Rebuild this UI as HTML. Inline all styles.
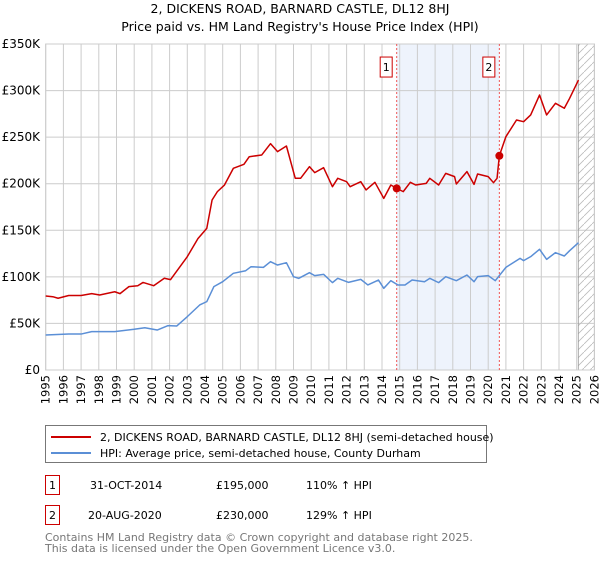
<!DOCTYPE html>
<html><head><meta charset="utf-8"><style>
body{margin:0;background:#fff;font-family:"DejaVu Sans","Liberation Sans",sans-serif;}
svg text{font-family:"DejaVu Sans","Liberation Sans",sans-serif;}
</style></head><body>
<svg id="chart" width="600" height="560" xmlns="http://www.w3.org/2000/svg">
<text x="300" y="13" text-anchor="middle" font-size="12.5" fill="#000">2, DICKENS ROAD, BARNARD CASTLE, DL12 8HJ</text>
<text x="300" y="31" text-anchor="middle" font-size="12.5" fill="#000">Price paid vs. HM Land Registry's House Price Index (HPI)</text>
<g id="plot"></g>
<g>
<rect x="45.5" y="425.5" width="441" height="37" fill="#fff" stroke="#777"/>
<line x1="51" y1="437" x2="91" y2="437" stroke="#cc0000" stroke-width="2"/>
<text x="100" y="441" font-size="11" fill="#000">2, DICKENS ROAD, BARNARD CASTLE, DL12 8HJ (semi-detached house)</text>
<line x1="51" y1="453" x2="91" y2="453" stroke="#5b8fd6" stroke-width="2"/>
<text x="100" y="457" font-size="11" fill="#000">HPI: Average price, semi-detached house, County Durham</text>
</g>
<g font-size="11" fill="#000">
<rect x="45.5" y="475.5" width="14" height="19" fill="#fff" stroke="#cc0000"/>
<text x="52.5" y="489" text-anchor="middle">1</text>
<text x="90" y="489">31-OCT-2014</text><text x="216" y="489">£195,000</text><text x="306" y="489">110% ↑ HPI</text>
<rect x="45.5" y="505.5" width="14" height="19" fill="#fff" stroke="#cc0000"/>
<text x="52.5" y="519" text-anchor="middle">2</text>
<text x="88" y="519">20-AUG-2020</text><text x="216" y="519">£230,000</text><text x="306" y="519">129% ↑ HPI</text>
</g>
<text x="45" y="541" font-size="11" fill="#777">Contains HM Land Registry data © Crown copyright and database right 2025.</text>
<text x="45" y="552" font-size="11" fill="#777">This data is licensed under the Open Government Licence v3.0.</text>
</svg>
<script>
const yTicks=[0,50,100,150,200,250,300,350];
const yTickLabels=["£0","£50K","£100K","£150K","£200K","£250K","£300K","£350K"];
const xYears=[1995,1996,1997,1998,1999,2000,2001,2002,2003,2004,2005,2006,2007,2008,2009,2010,2011,2012,2013,2014,2015,2016,2017,2018,2019,2020,2021,2022,2023,2024,2025,2026];
const redYears=[1995.0,1995.4,1995.7,1996.3,1997.0,1997.6,1998.05,1998.9,1999.2,1999.7,2000.2,2000.5,2001.1,2001.7,2002.05,2003.0,2003.6,2004.1,2004.4,2004.7,2005.1,2005.6,2006.2,2006.5,2007.2,2007.7,2008.1,2008.6,2009.1,2009.4,2009.9,2010.2,2010.7,2011.2,2011.5,2012.0,2012.2,2012.8,2013.1,2013.6,2014.1,2014.5,2014.83,2015.2,2015.6,2015.9,2016.5,2016.7,2017.2,2017.6,2018.1,2018.2,2018.8,2019.2,2019.4,2020.0,2020.3,2020.5,2020.63,2021.0,2021.6,2022.0,2022.4,2022.9,2023.3,2023.8,2024.3,2024.6,2025.1];
const redValues=[79.4,78.7,77,80,80,82,80.5,84,82,89.5,90.5,94,90.5,98.5,97,121.7,141,152,182.5,191.5,198.6,216.5,220.8,229,230.8,243,234.4,240.5,205.8,205.8,218.3,211.9,217.2,196.8,205.8,202.2,196.8,202.2,193.3,201.5,184.3,198.6,195,191.5,201.5,198.6,200.4,205.8,198.6,211.1,207.6,199.7,213,199.3,210.4,207.6,201.1,205.8,230,250.5,268.4,266.6,273.8,295.2,273.8,286.3,281,291.7,311.3];
const hpiYears=[1995.0,1996.3,1997.0,1997.6,1998.9,2000.0,2000.6,2001.3,2001.9,2002.4,2003.0,2003.7,2004.1,2004.5,2005.0,2005.6,2006.3,2006.6,2007.3,2007.7,2008.1,2008.6,2009.0,2009.3,2009.9,2010.2,2010.7,2011.2,2011.5,2012.1,2012.8,2013.2,2013.8,2014.1,2014.5,2014.9,2015.3,2015.7,2016.4,2016.7,2017.2,2017.6,2018.2,2018.8,2019.2,2019.4,2020.0,2020.4,2021.0,2021.8,2022.0,2022.4,2022.9,2023.3,2023.8,2024.3,2024.6,2025.1];
const hpiValues=[37.6,38.6,38.6,41.2,41.2,43.7,45.4,42.9,47.6,47.2,57.3,69.8,73.4,89.5,94.8,103.8,106.6,110.9,110.2,116.3,112.7,115.2,100.2,98.4,104.5,101.3,102.7,93.8,98.4,94.1,97.3,91.3,96.6,87.7,95.9,91.3,91.3,96.6,94.8,98.4,93.8,100.2,95.9,102,94.8,100.2,101.3,95.9,110.2,119.9,117.4,121.7,129.6,118.8,126,122.4,128.1,136.7];
const saleYears=[2014.83,2020.63];
const saleValues=[195,230];
const saleLabels=["1","2"];
const forecastStart=2025.09;

const X0=45.7,PX=17.7,Y0=370,PY=326/350;
const xs=y=>X0+(y-1995)*PX;
const ys=v=>Y0-v*PY;
const NS="http://www.w3.org/2000/svg";
const g=document.getElementById('plot');
function mk(tag,attrs){const e=document.createElementNS(NS,tag);for(const k in attrs)e.setAttribute(k,attrs[k]);g.appendChild(e);return e;}
const L=xs(1995),R=xs(2026),T=ys(350);
let e=mk('rect',{x:xs(saleYears[0]),y:T,width:xs(saleYears[1])-xs(saleYears[0]),height:Y0-T,fill:'#eef3fc'});


xYears.forEach(yr=>{const l=mk('line',{x1:xs(yr),x2:xs(yr),y1:T,y2:Y0,stroke:'#cccccc','stroke-width':1});


const t=mk('text',{x:0,y:0,'font-size':11.5,fill:'#000','text-anchor':'end',transform:`translate(${xs(yr)+4},${Y0+5}) rotate(-90)`});t.textContent=yr;

});
yTicks.forEach((v,i)=>{const l=mk('line',{x1:L,x2:R,y1:ys(v),y2:ys(v),stroke:'#cccccc','stroke-width':1});


const t=mk('text',{x:40,y:ys(v)+4,'font-size':12,fill:'#000','text-anchor':'end'});t.textContent=yTickLabels[i];

});
const defs=mk('defs',{});
const pat=document.createElementNS(NS,'pattern');pat.setAttribute('id','hatch');pat.setAttribute('width','8');pat.setAttribute('height','8');pat.setAttribute('patternUnits','userSpaceOnUse');
const pl=document.createElementNS(NS,'path');pl.setAttribute('d','M0,8 L8,0');pl.setAttribute('stroke','#bbb');pl.setAttribute('stroke-width','0.8');pat.appendChild(pl);defs.appendChild(pat);
e=mk('rect',{x:xs(forecastStart),y:T,width:R-xs(forecastStart),height:Y0-T,fill:'url(#hatch)',stroke:'#999','stroke-width':0.8});


e=mk('rect',{x:L,y:T,width:R-L,height:Y0-T,fill:'none',stroke:'#cccccc'});


saleYears.forEach((yr,i)=>{const l=mk('line',{x1:xs(yr),x2:xs(yr),y1:T,y2:Y0,stroke:'#ee5555','stroke-width':1,'stroke-dasharray':'2,2'});


const b=mk('rect',{x:xs(yr)-16.5,y:ys(336),width:12,height:20,fill:'#fff',stroke:'#cc0000'});


const t=mk('text',{x:xs(yr)-10.5,y:ys(336)+14,'font-size':11,fill:'#000','text-anchor':'middle'});t.textContent=saleLabels[i];

});
function line(yrs,vals,col,name){const p=mk('polyline',{points:yrs.map((y,i)=>xs(y)+','+ys(vals[i])).join(' '),fill:'none',stroke:col,'stroke-width':1.5,'stroke-linejoin':'round'});

}
line(hpiYears,hpiValues,'#5b8fd6','hpi-line');
line(redYears,redValues,'#cc0000','price-paid-line');
saleYears.forEach((yr,i)=>{const c=mk('circle',{cx:xs(yr),cy:ys(saleValues[i]),r:4,fill:'#cc0000'});

});
</script>
</body></html>
